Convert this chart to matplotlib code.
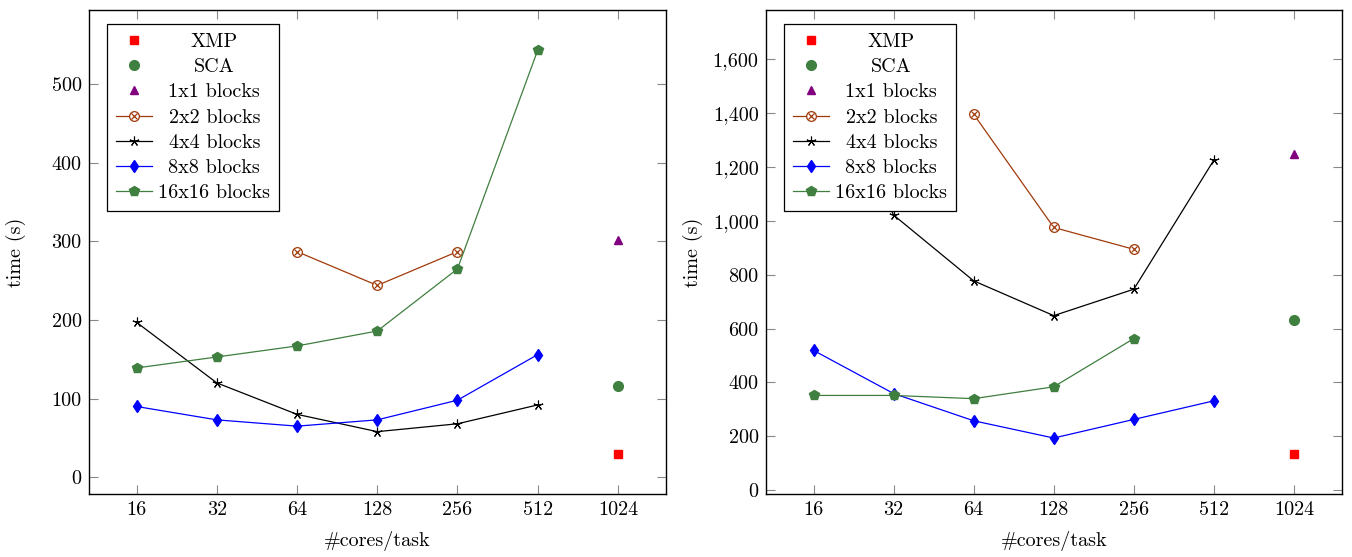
import matplotlib
matplotlib.use("Agg")
import matplotlib.pyplot as plt
from matplotlib.ticker import FixedLocator, FuncFormatter, NullLocator
import numpy as np

plt.rcParams['font.family'] = 'serif'
plt.rcParams['font.serif'] = ['cmr10', 'DejaVu Serif']
plt.rcParams['mathtext.fontset'] = 'cm'
plt.rcParams['axes.formatter.use_mathtext'] = True

cores = [16, 32, 64, 128, 256, 512, 1024]

# Left panel
L_xmp = {1024: 30}
L_sca = {1024: 116}
L_1x1 = {1024: 302}
L_2x2 = ([64, 128, 256], [287, 244, 287])
L_4x4 = ([16, 32, 64, 128, 256, 512], [197, 120, 80, 58, 68, 92])
L_8x8 = ([16, 32, 64, 128, 256, 512], [90, 73, 65, 73, 98, 156])
L_16x16 = ([16, 32, 64, 128, 256, 512], [139, 153, 167, 186, 265, 543])

# Right panel
R_xmp = {1024: 136}
R_sca = {1024: 631}
R_1x1 = {1024: 1247}
R_2x2 = ([64, 128, 256], [1395, 975, 894])
R_4x4 = ([16, 32, 64, 128, 256, 512], [1632, 1021, 777, 648, 746, 1225])
R_8x8 = ([16, 32, 64, 128, 256, 512], [519, 359, 258, 194, 263, 332])
R_16x16 = ([16, 32, 64, 128, 256, 512], [352, 352, 340, 384, 563, None])

labels = ['XMP', 'SCA', '1x1 blocks', '2x2 blocks', '4x4 blocks', '8x8 blocks', '16x16 blocks']

C_XMP = '#ff0000'
C_SCA = '#3f7f3f'
C_1x1 = '#800080'
C_2x2 = '#a03a0a'
C_4x4 = '#000000'
C_8x8 = '#0000ff'
C_16 = '#3f7f3f'

FS = 14.5
legends = []

def panel(ax, xmp, sca, b1, b2, b4, b8, b16, ylim, yticks, ylab_x):
    h = []
    k = list(xmp.keys())
    h.append(ax.plot(k, [xmp[x] for x in k], ls='none', marker='s', color=C_XMP, ms=6.3)[0])
    k = list(sca.keys())
    h.append(ax.plot(k, [sca[x] for x in k], ls='none', marker='o', color=C_SCA, ms=7)[0])
    k = list(b1.keys())
    h.append(ax.plot(k, [b1[x] for x in k], ls='none', marker='^', color=C_1x1, ms=6.3)[0])
    l2 = ax.plot(b2[0], b2[1], color=C_2x2, lw=0.9, marker='o', mfc='white', mec=C_2x2, ms=7, mew=0.9)[0]
    x2 = ax.plot(b2[0], b2[1], ls='none', color=C_2x2, marker='x', ms=4.8, mew=0.9)[0]
    h.append((l2, x2))
    h.append(ax.plot(b4[0], b4[1], color=C_4x4, lw=0.9, marker=(5, 2, 0), ms=7, mew=0.8)[0])
    h.append(ax.plot(b8[0], b8[1], color=C_8x8, lw=0.9, marker='d', ms=6.5)[0])
    xs = [x for x, y in zip(b16[0], b16[1]) if y is not None]
    ys = [y for y in b16[1] if y is not None]
    h.append(ax.plot(xs, ys, color=C_16, lw=0.9, marker='p', ms=7.2)[0])

    ax.set_xscale('log', base=2)
    ax.set_xlim(2 ** 3.4, 2 ** 10.6)
    ax.xaxis.set_major_locator(FixedLocator(cores))
    ax.xaxis.set_minor_locator(NullLocator())
    ax.xaxis.set_major_formatter(FuncFormatter(lambda v, p: f"{int(round(v))}"))
    ax.set_ylim(*ylim)
    ax.yaxis.set_major_locator(FixedLocator(yticks))
    ax.yaxis.set_major_formatter(FuncFormatter(lambda v, p: f"{v:,.0f}"))
    ax.tick_params(direction='in', length=6.5, width=0.8, color='#888888',
                   top=True, right=True, labelsize=FS, pad=5)
    for s in ax.spines.values():
        s.set_linewidth(1.0)
    ax.set_xlabel('#cores/task', fontsize=FS, labelpad=9)
    ax.set_ylabel('time (s)', fontsize=FS)
    ax.yaxis.set_label_coords(ylab_x, 0.5)
    leg = ax.legend(h, labels, loc='upper left', bbox_to_anchor=(18.5 / 577, 1 - 14 / 484),
                    fontsize=FS, frameon=True, fancybox=False,
                    edgecolor='black', framealpha=1.0, borderaxespad=0.0,
                    handlelength=1.8, handletextpad=0.3, labelspacing=0.35,
                    borderpad=0.45)
    leg.get_frame().set_linewidth(0.9)
    leg.set_zorder(10)
    legends.append(leg)

fig = plt.figure(figsize=(13.52, 5.57), dpi=100)
ax1 = fig.add_axes([88.5 / 1352, 1 - 494 / 557, (666 - 88.5) / 1352, (494 - 10) / 557])
ax2 = fig.add_axes([765.5 / 1352, 1 - 494 / 557, (1342 - 765.5) / 1352, (494 - 10) / 557])

panel(ax1, L_xmp, L_sca, L_1x1, L_2x2, L_4x4, L_8x8, L_16x16, (-21.3, 594.3),
      [0, 100, 200, 300, 400, 500], -0.108)
panel(ax2, R_xmp, R_sca, R_1x1, R_2x2, R_4x4, R_8x8, R_16x16, (-13.6, 1781.6),
      [0, 200, 400, 600, 800, 1000, 1200, 1400, 1600], -0.108)

# centre legend entries like pgfplots does
fig.canvas.draw()
r = fig.canvas.get_renderer()
for leg in legends:
    texts = leg.get_texts()
    ws = [t.get_window_extent(r).width for t in texts]
    mw = max(ws)
    for t, w in zip(texts, ws):
        t.set_x((mw - w) / 2)

fig.savefig('out.png', dpi=100)
